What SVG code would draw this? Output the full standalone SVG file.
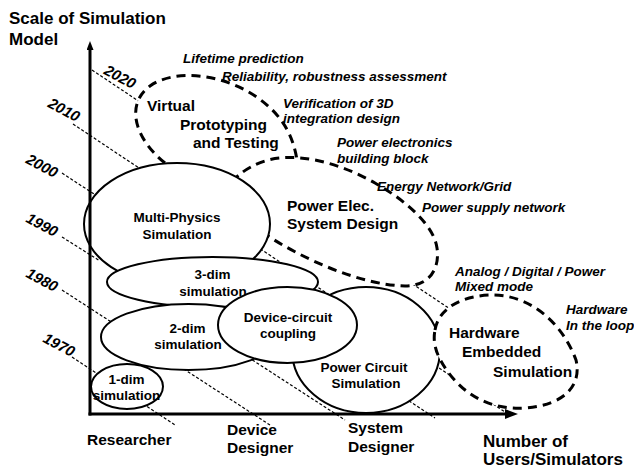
<svg xmlns="http://www.w3.org/2000/svg" width="634" height="469" viewBox="0 0 634 469">
<style>
text{font-family:"Liberation Sans",Arial,sans-serif;font-weight:bold;fill:#000}
.yr{font-size:15px;font-style:italic}
.ann{font-size:13.5px;font-style:italic}
.ax{font-size:17px}
.big{font-size:15.5px}
.sm{font-size:13.5px}
.mid{text-anchor:middle}
.dot{stroke:#000;stroke-width:1.2;stroke-dasharray:3 2;fill:none}
.sol{fill:#fff;stroke:#000;stroke-width:2}
.dsh{fill:none;stroke:#000;stroke-width:3;stroke-dasharray:9 6}
.wf{fill:#fff;stroke:none}
.axis{stroke:#000;stroke-width:3;fill:none}
</style>
<defs>
<marker id="ahx" markerUnits="userSpaceOnUse" markerWidth="14" markerHeight="12" refX="1" refY="5" orient="auto"><path d="M0,0 L13,5 L0,10 Z" fill="#000"/></marker>
<marker id="ahy" markerUnits="userSpaceOnUse" markerWidth="10" markerHeight="10" refX="1" refY="3.5" orient="auto"><path d="M0,0 L9,3.5 L0,7 Z" fill="#000"/></marker>
</defs>
<rect width="634" height="469" fill="#fff"/>

<g id="year-lines">
<path class="dot" d="M92,70 L510,349"/>
<path class="dot" d="M73,124 L505,412"/>
<path class="dot" d="M62,173 L435,418"/>
<path class="dot" d="M62,237 L100,261 M118,273 L345,420"/>
<path class="dot" d="M62,290 L270,425"/>
<path class="dot" d="M72,357 L175,425"/>
</g>

<g id="year-labels">
<text class="yr mid" transform="translate(120,77) rotate(28)" y="5">2020</text>
<text class="yr mid" transform="translate(64,110) rotate(28)" y="5">2010</text>
<text class="yr mid" transform="translate(42,166) rotate(28)" y="5">2000</text>
<text class="yr mid" transform="translate(42,225) rotate(28)" y="5">1990</text>
<text class="yr mid" transform="translate(42,280) rotate(28)" y="5">1980</text>
<text class="yr mid" transform="translate(59,345) rotate(28)" y="5">1970</text>
</g>

<g id="virtual-prototyping">
<path class="wf" d="M165,163 C136,140 124,105 150,86 C175,68 225,74 258,98 C282,115 293,135 297,160 C295,190 200,190 165,163 Z"/>
<path class="dsh" d="M165,163 C136,140 124,105 150,86 C175,68 225,74 258,98 C282,115 293,135 297,160"/>
<text class="big" x="147" y="111">Virtual</text>
<text class="big" x="180" y="130">Prototyping</text>
<text class="big" x="193" y="148">and Testing</text>
</g>

<g id="power-elec-system-design">
<path class="wf" d="M262,232 C300,258 360,285 405,286 C430,286 440,268 437,248 C434,225 405,200 375,183 C345,166 310,155 280,158 C258,160 240,172 232,182 Z"/>
<path class="dsh" d="M262,232 C300,258 360,285 405,286 C430,286 440,268 437,248 C434,225 405,200 375,183 C345,166 310,155 280,158 C258,160 240,172 232,182"/>
<text class="big" x="287" y="211">Power Elec.</text>
<text class="big" x="287" y="229">System Design</text>
</g>

<g id="multi-physics">
<ellipse class="sol" cx="177" cy="224" rx="93" ry="61"/>
<text class="sm mid" x="177" y="222">Multi-Physics</text>
<text class="sm mid" x="177" y="239">Simulation</text>
</g>

<g id="dim3">
<ellipse class="sol" cx="212.5" cy="282" rx="105.5" ry="25"/>
<text class="sm mid" x="212.5" y="279">3-dim</text>
<text class="sm mid" x="213" y="296">simulation</text>
</g>

<g id="dim2">
<ellipse class="sol" cx="188.5" cy="337" rx="87.5" ry="33"/>
<text class="sm mid" x="187.5" y="333">2-dim</text>
<text class="sm mid" x="188" y="349">simulation</text>
</g>

<g id="dim1">
<ellipse class="sol" cx="127" cy="386.5" rx="36" ry="22.5"/>
<text class="sm mid" x="126.5" y="384">1-dim</text>
<text class="sm mid" x="126.5" y="400">simulation</text>
</g>

<g id="power-circuit">
<ellipse class="sol" cx="366" cy="350" rx="74" ry="63"/>
<text class="sm mid" x="364" y="372">Power Circuit</text>
<text class="sm mid" x="366" y="388">Simulation</text>
</g>

<g id="device-circuit">
<ellipse class="sol" cx="287.5" cy="325" rx="69.5" ry="38"/>
<text class="sm mid" x="288" y="322">Device-circuit</text>
<text class="sm mid" x="288" y="338">coupling</text>
</g>

<g id="hardware-embedded">
<path class="wf" d="M435,330 C440,300 480,292 505,296 C540,302 565,330 576,360 C582,385 565,405 525,408 C490,410 465,395 448,372 C438,358 432,345 435,330 Z"/>
<path class="dsh" d="M435,330 C440,300 480,292 505,296 C540,302 565,330 576,360 C582,385 565,405 525,408 C490,410 465,395 448,372 C438,358 432,345 435,330 Z"/>
<text class="big" x="449" y="338">Hardware</text>
<text class="big" x="462" y="357">Embedded</text>
<text class="big" x="493" y="377">Simulation</text>
</g>

<g id="axes">
<line class="axis" x1="90" y1="415.5" x2="90" y2="49" marker-end="url(#ahy)"/>
<line class="axis" x1="88.5" y1="414" x2="506" y2="414" marker-end="url(#ahx)"/>
</g>

<g id="axis-labels">
<text class="ax" x="9" y="24">Scale of Simulation</text>
<text class="ax" x="9" y="45">Model</text>
<text class="ax" x="483" y="447">Number of</text>
<text class="ax" x="483" y="465">Users/Simulators</text>
<text class="big" x="87" y="445">Researcher</text>
<text class="big" x="227" y="435">Device</text>
<text class="big" x="227" y="453">Designer</text>
<text class="big" x="348" y="433">System</text>
<text class="big" x="348" y="452">Designer</text>
</g>

<g id="annotations">
<text class="ann" x="183" y="63">Lifetime prediction</text>
<text class="ann" x="222" y="81">Reliability, robustness assessment</text>
<text class="ann" x="283" y="108">Verification of 3D</text>
<text class="ann" x="283" y="123">integration design</text>
<text class="ann" x="337" y="147">Power electronics</text>
<text class="ann" x="337" y="163">building block</text>
<text class="ann" x="377" y="191">Energy Network/Grid</text>
<text class="ann" x="422" y="212">Power supply network</text>
<text class="ann" x="455" y="276">Analog / Digital / Power</text>
<text class="ann" x="455" y="291">Mixed mode</text>
<text class="ann" x="566" y="314">Hardware</text>
<text class="ann" x="566" y="330">In the loop</text>
</g>
</svg>
